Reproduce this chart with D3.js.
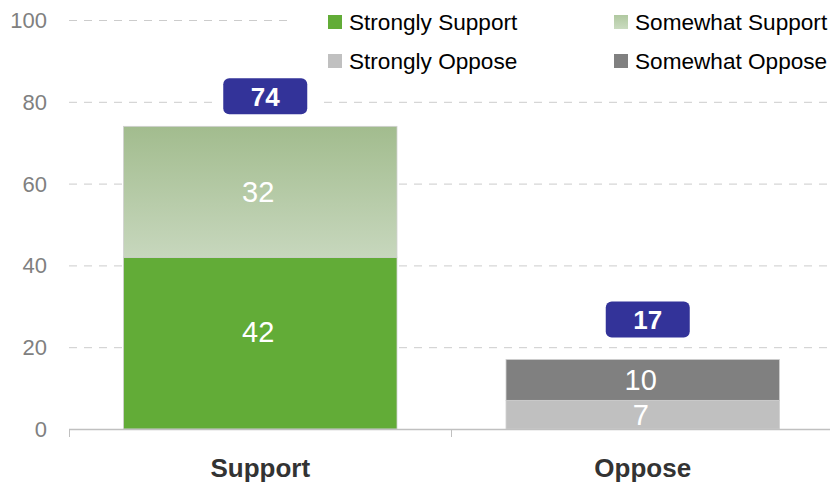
<!DOCTYPE html>
<html><head><meta charset="utf-8">
<script src="https://cdn.jsdelivr.net/npm/d3@7"></script>
<style>body{margin:0;background:#fff;}svg{display:block;font-family:"Liberation Sans",Arial,sans-serif;}</style>
</head><body>
<svg id="c" width="830" height="483"></svg>
<script>
const categories = ["Support", "Oppose"];
const seriesNames = ["Strongly Support", "Somewhat Support", "Strongly Oppose", "Somewhat Oppose"];
const stronglySupport = [42, 0];
const somewhatSupport = [32, 0];
const stronglyOppose = [0, 7];
const somewhatOppose = [0, 10];
const totals = [74, 17];
const yTicks = [0, 20, 40, 60, 80, 100];

const svg = d3.select("#c");
const m = {left: 69};
const x = d3.scaleBand().domain(categories).range([m.left, 834]).paddingInner(0.285).paddingOuter(0.1425);
const y = d3.scaleLinear().domain([0, 100]).range([429, 20]);

const defs = svg.append("defs");
const g = defs.append("linearGradient").attr("id", "gs").attr("x1", 0).attr("y1", 0).attr("x2", 0).attr("y2", 1);
g.append("stop").attr("offset", "0%").attr("stop-color", "#a2bc8e");
g.append("stop").attr("offset", "100%").attr("stop-color", "#c7d7bd");
const lgGrad = defs.append("linearGradient").attr("id", "gl").attr("x1", 0).attr("y1", 0).attr("x2", 0).attr("y2", 1);
lgGrad.append("stop").attr("offset", "0%").attr("stop-color", "#b0c8a0");
lgGrad.append("stop").attr("offset", "100%").attr("stop-color", "#cadbc0");
const colors = ["#62ac37", "url(#gs)", "#c0c0c0", "#808080"];
const legendColors = ["#62ac37", "url(#gl)", "#c0c0c0", "#808080"];

// gridlines
svg.append("g").selectAll("line").data(yTicks.filter(d => d > 0)).join("line")
  .attr("x1", m.left).attr("x2", 830)
  .attr("y1", d => y(d) + 0.5).attr("y2", d => y(d) + 0.5)
  .attr("stroke", "#cccccc").attr("stroke-width", 1).attr("stroke-dasharray", "8,7");

// y tick labels
svg.append("g").selectAll("text").data(yTicks).join("text")
  .attr("x", 47).attr("y", d => y(d)).attr("dy", "0.36em")
  .attr("text-anchor", "end").attr("font-size", 22).attr("fill", "#808080")
  .text(d => d);

// stacked bars
const seriesData = [stronglySupport, somewhatSupport, stronglyOppose, somewhatOppose];
const rows = categories.map((c, i) => {
  const o = {cat: c};
  seriesNames.forEach((s, j) => o[s] = seriesData[j][i]);
  return o;
});
const stack = d3.stack().keys(seriesNames)(rows);
const bars = svg.append("g");
stack.forEach((layer, j) => {
  layer.forEach((d, i) => {
    const v = d[1] - d[0];
    if (v <= 0) return;
    bars.append("rect")
      .attr("x", x(categories[i])).attr("width", x.bandwidth())
      .attr("y", y(d[1])).attr("height", y(d[0]) - y(d[1]))
      .attr("fill", colors[j]).attr("stroke", "#d0d0d0").attr("stroke-width", 0.8);
  });
});
const labelShift = [-12, 0, 0, 0];
stack.forEach((layer, j) => {
  layer.forEach((d, i) => {
    const v = d[1] - d[0];
    if (v <= 0) return;
    bars.append("text")
      .attr("x", x(categories[i]) + x.bandwidth() / 2 - 2)
      .attr("y", (y(d[0]) + y(d[1])) / 2 + labelShift[j]).attr("dy", "0.36em")
      .attr("text-anchor", "middle").attr("font-size", 29).attr("fill", "#ffffff")
      .text(v);
  });
});

// axis
const ax = svg.append("g");
ax.append("line").attr("x1", m.left).attr("x2", 830).attr("y1", 429.5).attr("y2", 429.5)
  .attr("stroke", "#c0c0c0").attr("stroke-width", 1.5);
[m.left, 451].forEach(t => ax.append("line").attr("x1", t + 0.5).attr("x2", t + 0.5)
  .attr("y1", 429).attr("y2", 437).attr("stroke", "#c0c0c0").attr("stroke-width", 1));
ax.selectAll("text.cat").data(categories).join("text").attr("class", "cat")
  .attr("x", d => x(d) + x.bandwidth() / 2).attr("y", 477)
  .attr("text-anchor", "middle").attr("font-size", 26).attr("font-weight", "bold").attr("fill", "#333333")
  .text(d => d);

// legend background (masks gridline behind legend)
const lg = svg.append("g");
lg.append("rect").attr("x", 292).attr("y", 4).attr("width", 538).attr("height", 70).attr("fill", "#fff");
const legPos = [[328, 22], [614, 22], [328, 61], [614, 61]];
seriesNames.forEach((name, k) => {
  const [lx, ly] = legPos[k];
  lg.append("rect").attr("x", lx).attr("y", ly - 7).attr("width", 14).attr("height", 14).attr("fill", legendColors[k]);
  lg.append("text").attr("x", lx + 21).attr("y", ly).attr("dy", "0.36em")
    .attr("font-size", 22.6).attr("fill", "#000").text(name);
});

// total labels
const lift = [30, 40];
const tl = svg.append("g");
totals.forEach((t, i) => {
  const cx = x(categories[i]) + x.bandwidth() / 2 + 5;
  const cy = y(t) - lift[i];
  tl.append("rect").attr("x", cx - 52).attr("y", cy - 12).attr("width", 104).attr("height", 24).attr("fill", "#fff");
  tl.append("rect").attr("x", cx - 42).attr("y", cy - 18).attr("width", 84).attr("height", 36)
    .attr("rx", 6).attr("fill", "#333399");
  tl.append("text").attr("x", cx).attr("y", cy).attr("dy", "0.36em")
    .attr("text-anchor", "middle").attr("font-size", 26).attr("font-weight", "bold").attr("fill", "#fff")
    .text(t);
});
</script>
</body></html>
